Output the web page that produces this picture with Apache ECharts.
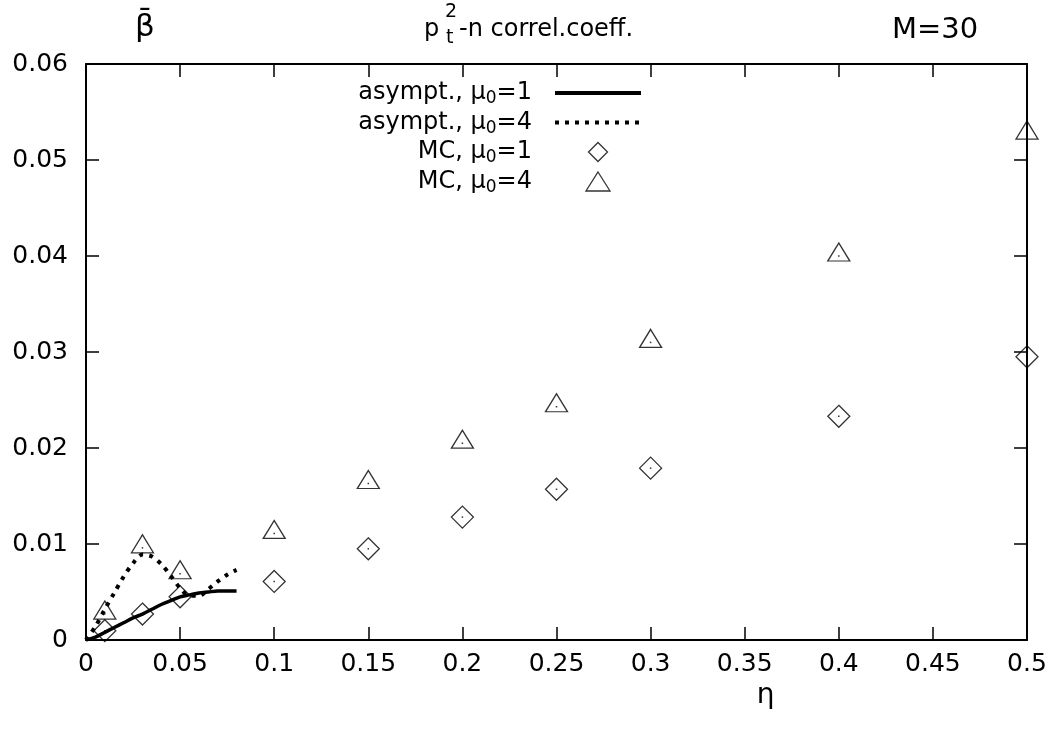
<!DOCTYPE html>
<html><head><meta charset="utf-8">
<script src="https://cdn.jsdelivr.net/npm/echarts@6/dist/echarts.min.js"></script>
<style>html,body{margin:0;padding:0;background:#fff}#c{width:1063px;height:740px}</style>
</head><body><div id="c"></div>
<script>
// ---- data ----
const etaMC  = [0.01, 0.03, 0.05, 0.1, 0.15, 0.2, 0.25, 0.3, 0.4, 0.5];
const mcMu1  = [0.00097, 0.0027, 0.0045, 0.0061, 0.0095, 0.0128, 0.0157, 0.0179, 0.0233, 0.0295];
const mcMu4  = [0.0027, 0.0096, 0.0069, 0.0111, 0.0163, 0.0205, 0.0243, 0.0310, 0.0400, 0.0527];
const etaAsym = [0, 0.005, 0.01, 0.015, 0.02, 0.025, 0.03, 0.035, 0.04, 0.045, 0.05, 0.055, 0.06, 0.065, 0.07, 0.075, 0.08];
const asymMu1 = [0, 0.0003, 0.0008, 0.0013, 0.0018, 0.0023, 0.0027, 0.0032, 0.0037, 0.0041, 0.0045, 0.0047, 0.0049, 0.0050, 0.0051, 0.0051, 0.0051];
const asymMu4 = [0, 0.0014, 0.0032, 0.0049, 0.0066, 0.0080, 0.0089, 0.0087, 0.0079, 0.0067, 0.0054, 0.0046, 0.0046, 0.0053, 0.0061, 0.0068, 0.0073];
const seriesNames = ['asympt., μ0=1', 'asympt., μ0=4', 'MC, μ0=1', 'MC, μ0=4'];
const titleMain = 'p';
const titleSub = 't';
const titleSup = '2';
const titleRest = '-n correl.coeff.';
const titleRight = 'M=30';
const xName = 'η';
const yName = 'β\u0304';

const F = "'DejaVu Sans', sans-serif";
const pairs = (xs, ys) => xs.map((x, i) => [x, ys[i]]);

const axisLineStyle = { color: '#000', width: 2 };
const tickStyle = { show: true, inside: true, length: 13, lineStyle: { color: '#000', width: 1.5 } };
const fmt = v => String(+v.toFixed(2));

// legend icon paths (sample line, dotted line, hollow diamond, hollow triangle)
const solidIcon = 'path://M0,0H86V4H0Z';
let dotted = '';
for (let x = 0; x + 4 <= 86; x += 10) dotted += 'M' + x + ',0h4v4h-4Z';
const dottedIcon = 'path://' + dotted + 'M86,0v4Z';
const diamondIcon = 'path://M11,0L22,11L11,22L0,11Z';
const triangleIcon = 'path://M9.5,2L19,17L0,17Z';

const chart = echarts.init(document.getElementById('c'), null, { renderer: 'canvas' });
chart.setOption({
  backgroundColor: '#fff',
  animation: false,
  grid: { left: 86, right: 36, top: 64, bottom: 100, containLabel: false },
  xAxis: [
    { type: 'value', min: 0, max: 0.5, interval: 0.05, position: 'bottom',
      axisLine: { onZero: false, lineStyle: axisLineStyle }, axisTick: tickStyle,
      axisLabel: { color: '#000', fontSize: 25, fontFamily: F, margin: 12, formatter: fmt },
      splitLine: { show: false },
      name: xName, nameLocation: 'middle', nameGap: 33,
      nameTextStyle: { color: '#000', fontSize: 28, fontFamily: F, padding: [0, 0, 0, 418] } },
    { type: 'value', min: 0, max: 0.5, interval: 0.05, position: 'top',
      axisLine: { onZero: false, lineStyle: axisLineStyle }, axisTick: tickStyle,
      axisLabel: { show: false }, splitLine: { show: false } }
  ],
  yAxis: [
    { type: 'value', min: 0, max: 0.06, interval: 0.01, position: 'left',
      axisLine: { onZero: false, lineStyle: axisLineStyle }, axisTick: tickStyle,
      axisLabel: { color: '#000', fontSize: 25, fontFamily: F, margin: 18, formatter: fmt },
      splitLine: { show: false },
      name: yName, nameLocation: 'end', nameGap: 21,
      nameTextStyle: { color: '#000', fontSize: 31, fontFamily: F, padding: [0, 0, 0, 118] } },
    { type: 'value', min: 0, max: 0.06, interval: 0.01, position: 'right',
      axisLine: { onZero: false, lineStyle: axisLineStyle }, axisTick: tickStyle,
      axisLabel: { show: false }, splitLine: { show: false } }
  ],
  legend: {
    orient: 'vertical', align: 'right', right: 422, top: 81, padding: 0,
    itemWidth: 86, itemHeight: 19, itemGap: 3, selectedMode: false, symbolKeepAspect: true,
    data: [
      { name: seriesNames[0], icon: solidIcon, itemStyle: { color: '#000', borderWidth: 0 } },
      { name: seriesNames[1], icon: dottedIcon, itemStyle: { color: '#000', borderWidth: 0 } },
      { name: seriesNames[2], icon: diamondIcon, itemStyle: { color: 'rgba(255,255,255,0)', borderColor: '#000', borderWidth: 1.3 } },
      { name: seriesNames[3], icon: triangleIcon, itemStyle: { color: 'rgba(255,255,255,0)', borderColor: '#000', borderWidth: 1.3 } }
    ],
    formatter: name => {
      const m = name.match(/^(.*μ)0(=\d)$/);
      return '{t|' + m[1] + '}{s|0}{e|' + m[2] + '}';
    },
    textStyle: {
      color: '#000', fontFamily: F, fontSize: 24,
      rich: {
        t: { fontSize: 24, fontFamily: F, color: '#000' },
        s: { fontSize: 17, fontFamily: F, color: '#000', padding: [12, 0, 0, 0] },
        e: { fontSize: 24, fontFamily: F, color: '#000', padding: [0, 18, 0, 0] }
      }
    }
  },
  graphic: [
    { type: 'text', left: 424, top: 18, style: { text: titleMain, font: '24px ' + F, fill: '#000' } },
    { type: 'text', left: 445, top: 3, style: { text: titleSup, font: '19px ' + F, fill: '#000' } },
    { type: 'text', left: 446, top: 29, style: { text: titleSub, font: '19px ' + F, fill: '#000' } },
    { type: 'text', left: 459, top: 18, style: { text: titleRest, font: '24px ' + F, fill: '#000' } },
    { type: 'text', left: 892, top: 16, style: { text: titleRight, font: '29px ' + F, fill: '#000' } }
  ],
  series: [
    { name: seriesNames[0], type: 'line', data: pairs(etaAsym, asymMu1), smooth: 0.3,
      symbol: 'none', showSymbol: false, lineStyle: { color: '#000', width: 3.5 }, itemStyle: { color: '#000' } },
    { name: seriesNames[1], type: 'line', data: pairs(etaAsym, asymMu4), smooth: 0.3,
      symbol: 'none', showSymbol: false, lineStyle: { color: '#000', width: 4, type: [4, 6], cap: 'butt' }, itemStyle: { color: '#000' } },
    { name: seriesNames[2], type: 'scatter', data: pairs(etaMC, mcMu1), symbol: 'diamond', symbolSize: [22, 22],
      itemStyle: { color: 'rgba(255,255,255,0)', borderColor: '#000', borderWidth: 1.3 } },
    { name: seriesNames[3], type: 'scatter', data: pairs(etaMC, mcMu4), symbol: 'triangle', symbolSize: [22, 18], symbolOffset: [0, -4],
      itemStyle: { color: 'rgba(255,255,255,0)', borderColor: '#000', borderWidth: 1.3 } },
    { name: 'centers', type: 'scatter', silent: true, data: pairs(etaMC, mcMu1).concat(pairs(etaMC, mcMu4)),
      symbol: 'rect', symbolSize: 1.5, itemStyle: { color: '#000' } }
  ]
});
</script></body></html>
